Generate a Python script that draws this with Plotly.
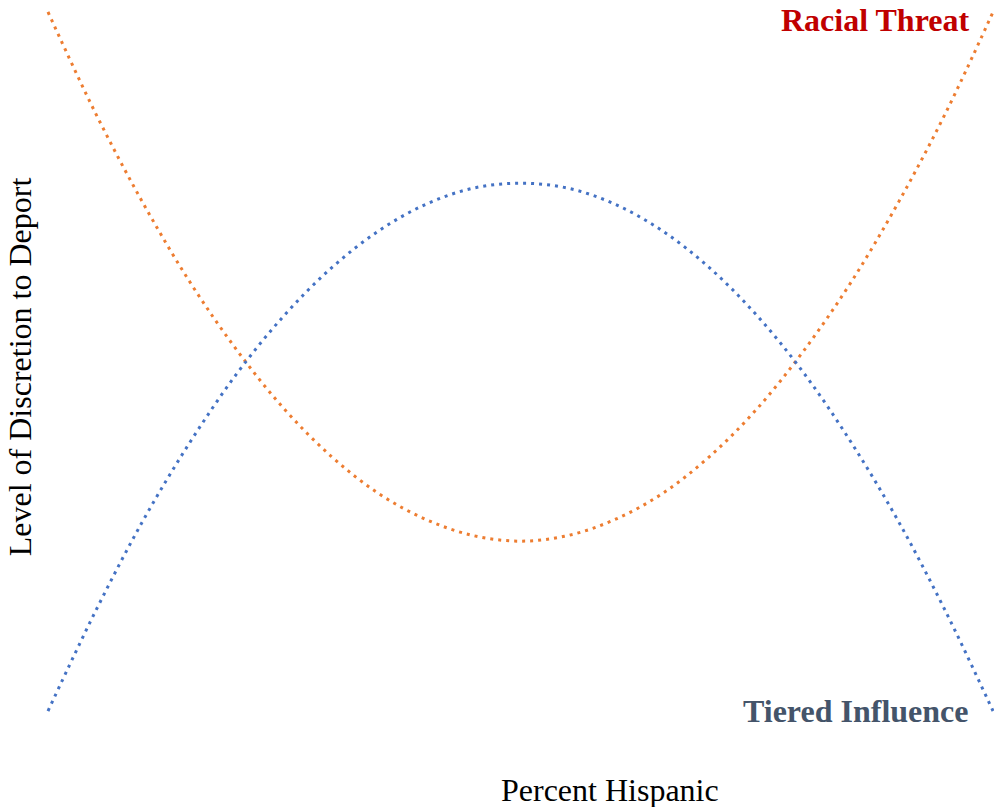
import plotly.graph_objects as go

# Percent Hispanic (x) and level of discretion (y)
pct_hispanic = [0, 5, 10, 15, 20, 25, 30, 35, 40, 45, 50, 55, 60, 65, 70, 75, 80, 85, 90, 95, 100]
racial_threat = [100, 85.6, 72.8, 61.4, 51.6, 43.2, 36.4, 31.1, 27.4, 25.1, 24.3,
                 25.1, 27.4, 31.1, 36.4, 43.2, 51.6, 61.4, 72.8, 85.6, 100]
tiered_influence = [0, 14.2, 27.1, 38.4, 48.3, 56.6, 63.4, 68.7, 72.5, 74.8, 75.5,
                    74.8, 72.5, 68.7, 63.4, 56.6, 48.3, 38.4, 27.1, 14.2, 0]

FONT = "Liberation Serif, Times New Roman, serif"

fig = go.Figure()
fig.add_trace(go.Scatter(
    x=pct_hispanic, y=racial_threat, mode="lines",
    line=dict(color="#ED7D31", width=3, dash="3px,5px", shape="spline"),
    name="Racial Threat", hoverinfo="skip"))
fig.add_trace(go.Scatter(
    x=pct_hispanic, y=tiered_influence, mode="lines",
    line=dict(color="#4472C4", width=3, dash="3px,5px", shape="spline"),
    name="Tiered Influence", hoverinfo="skip"))

fig.update_layout(
    width=995, height=807,
    margin=dict(l=38, r=1, t=4, b=88),
    paper_bgcolor="white", plot_bgcolor="white",
    showlegend=False,
    xaxis=dict(range=[-1.058, 100.1], visible=False, fixedrange=True),
    yaxis=dict(range=[-1.14, 101.14], visible=False, fixedrange=True),
    font=dict(family=FONT, color="black"),
    annotations=[
        dict(text="<b>Racial Threat</b>", xref="paper", yref="paper",
             x=0.975, y=0.978, xanchor="right", yanchor="middle", showarrow=False,
             borderpad=0,
             font=dict(family=FONT, size=32, color="#C00000")),
        dict(text="<b>Tiered Influence</b>", xref="paper", yref="paper",
             x=0.975, y=0.011, xanchor="right", yanchor="middle", showarrow=False,
             font=dict(family=FONT, size=32, color="#44546A")),
        dict(text="Percent Hispanic", xref="paper", yref="paper",
             x=0.598, y=-0.0993, xanchor="center", yanchor="middle", showarrow=False,
             font=dict(family=FONT, size=32, color="black")),
        dict(text="Level of Discretion to Deport", xref="paper", yref="paper",
             x=-0.0188, y=0.492, xanchor="center", yanchor="middle", showarrow=False,
             textangle=-90,
             font=dict(family=FONT, size=32, color="black")),
    ],
)

fig.write_html("out.html",
               config={"displayModeBar": False},
               post_script="document.body.style.margin='0';document.body.style.overflow='hidden';")
